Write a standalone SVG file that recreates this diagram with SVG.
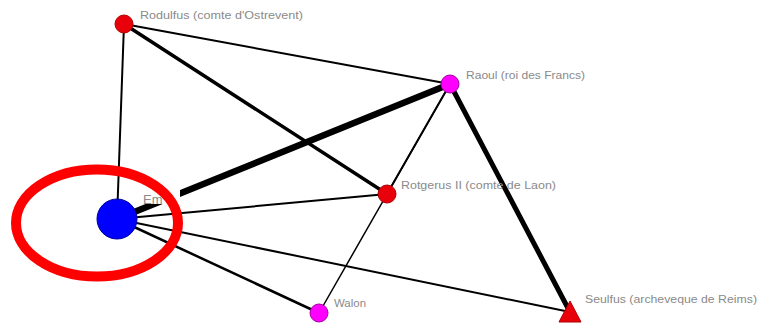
<svg xmlns="http://www.w3.org/2000/svg" width="760" height="326" viewBox="0 0 760 326">
<style>
.e{stroke:#000;fill:none;stroke-linecap:round}
.lbl{font-family:"Liberation Sans",Arial,sans-serif;font-size:11px;fill:#8a8a8a}
.red{fill:#e8000a;stroke:#b00000;stroke-width:1}
.mag{fill:#ff00ff;stroke:#a000a0;stroke-width:1}
</style>
<rect width="760" height="326" fill="#fff"/>
<g id="connectors">
<line class="e" x1="117" y1="219" x2="124" y2="24" stroke-width="2"/>
<line class="e" x1="124" y1="24" x2="450" y2="84" stroke-width="2"/>
<line class="e" x1="124" y1="24" x2="387" y2="194" stroke-width="3.5"/>
<line class="e" x1="117" y1="219" x2="450" y2="84" stroke-width="6.5"/>
<line class="e" x1="450" y1="84" x2="387" y2="194" stroke-width="2"/>
<line class="e" x1="450" y1="84" x2="319" y2="313" stroke-width="1.5"/>
<line class="e" x1="450" y1="84" x2="570" y2="312" stroke-width="5"/>
<line class="e" x1="117" y1="219" x2="387" y2="194" stroke-width="2"/>
<line class="e" x1="117" y1="219" x2="319" y2="313" stroke-width="2.5"/>
<line class="e" x1="117" y1="219" x2="570" y2="312" stroke-width="2"/>
</g>
<g id="emma">
<rect x="140" y="190" width="40" height="14" fill="#fff"/>
<circle cx="117" cy="219" r="20" fill="#0000ff" stroke="#0000a0" stroke-width="1"/>
<text class="lbl" x="143" y="204" style="font-size:13px">Em</text>
</g>
<g id="rodulfus">
<circle class="red" cx="124" cy="24" r="9"/>
<text class="lbl" x="140" y="19" textLength="163" lengthAdjust="spacingAndGlyphs">Rodulfus (comte d'Ostrevent)</text>
</g>
<g id="raoul">
<circle class="mag" cx="450" cy="84" r="9"/>
<text class="lbl" x="466" y="79" textLength="119" lengthAdjust="spacingAndGlyphs">Raoul (roi des Francs)</text>
</g>
<g id="rotgerus">
<circle class="red" cx="387" cy="194" r="9"/>
<text class="lbl" x="401" y="189" textLength="155" lengthAdjust="spacingAndGlyphs">Rotgerus II (comte de Laon)</text>
</g>
<g id="walon">
<circle class="mag" cx="319" cy="313" r="9"/>
<text class="lbl" x="334" y="307" textLength="32" lengthAdjust="spacingAndGlyphs">Walon</text>
</g>
<g id="seulfus">
<polygon class="red" points="570,301 581,322 559,322"/>
<text class="lbl" x="585" y="303" textLength="172" lengthAdjust="spacingAndGlyphs">Seulfus (archeveque de Reims)</text>
</g>
<ellipse id="highlight" cx="97" cy="223" rx="81" ry="53.5" fill="none" stroke="#ff0000" stroke-width="10"/>
</svg>
